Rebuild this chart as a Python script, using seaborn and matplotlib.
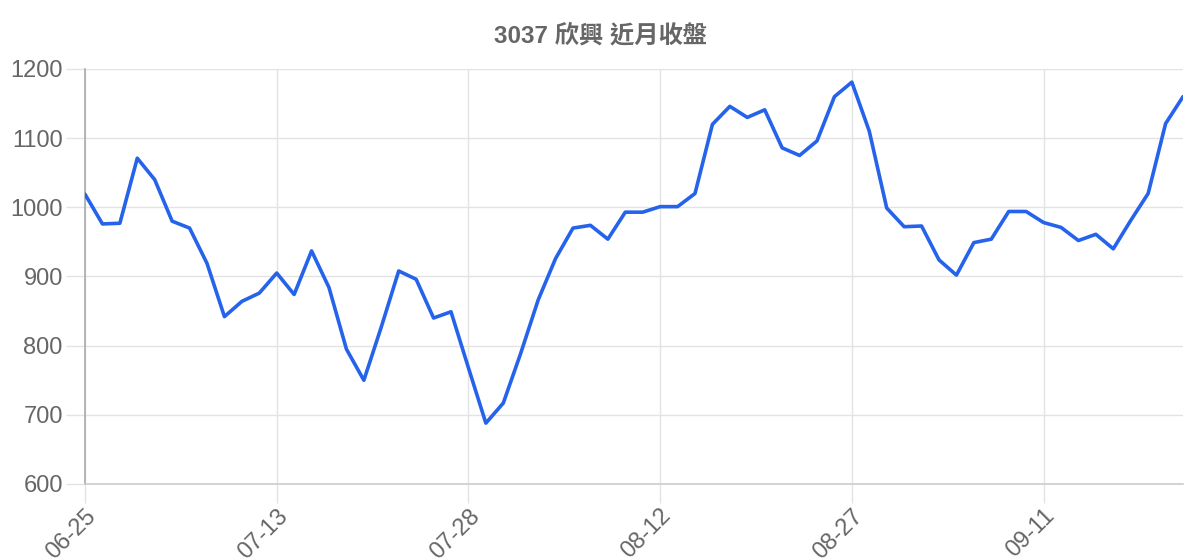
import matplotlib
matplotlib.use("Agg")
import matplotlib.pyplot as plt
import seaborn as sns
import pandas as pd

title = "3037 欣興 近月收盤"
close = [1019, 976, 977, 1071, 1040, 980, 970, 919, 842, 864,
         876, 905, 874, 937, 884, 795, 750, 827, 908, 896,
         840, 849, 768, 688, 717, 789, 866, 926, 970, 974,
         954, 993, 993, 1001, 1001, 1020, 1120, 1146, 1130, 1141,
         1086, 1075, 1096, 1160, 1181, 1110, 999, 972, 973, 924,
         902, 949, 954, 994, 994, 978, 971, 952, 961, 940,
         981, 1020, 1121, 1160]
tick_pos = [0, 11, 22, 33, 44, 55]
tick_labels = ["06-25", "07-13", "07-28", "08-12", "08-27", "09-11"]
y_ticks = [600, 700, 800, 900, 1000, 1100, 1200]

df = pd.DataFrame({"i": range(len(close)), "close": close})

sns.set_theme(style="white")
plt.rcParams["font.family"] = ["Liberation Sans", "Noto Sans CJK TC", "DejaVu Sans"]

fig = plt.figure(figsize=(12, 5.6), dpi=100)
ax = fig.add_axes([85/1200, 1-484/560, (1183-85)/1200, (484-69)/560])

grid_c = "#e3e3e3"
ax.set_axisbelow(True)
sns.lineplot(data=df, x="i", y="close", ax=ax, color="#2563eb", linewidth=2.6, zorder=3)

ax.set_xlim(0, len(close) - 1)
ax.set_ylim(600, 1200)
ax.set_xticks(tick_pos)
ax.set_xticklabels(tick_labels, rotation=45, ha="right", va="top", rotation_mode="anchor")
ax.set_yticks(y_ticks)
ax.set_yticklabels([str(v) for v in y_ticks])
ax.grid(True, color=grid_c, linewidth=1.0)
ax.tick_params(axis="both", which="both", length=14, width=1.0, color=grid_c,
               labelsize=17, labelcolor="#666666", pad=2, left=True, bottom=True)
ax.tick_params(axis="x", pad=1)
for s in ["top", "right"]:
    ax.spines[s].set_visible(False)
ax.spines["left"].set_color("#aaaaaa")
ax.spines["left"].set_linewidth(1.2)
ax.spines["bottom"].set_color("#cccccc")
ax.spines["bottom"].set_linewidth(1.2)
ax.set_xlabel("")
ax.set_ylabel("")

fig.text(0.5, 1-36/560, title, ha="center", va="center", fontsize=17.5,
         fontweight="bold", color="#666666")

fig.savefig("out.png", dpi=100)
